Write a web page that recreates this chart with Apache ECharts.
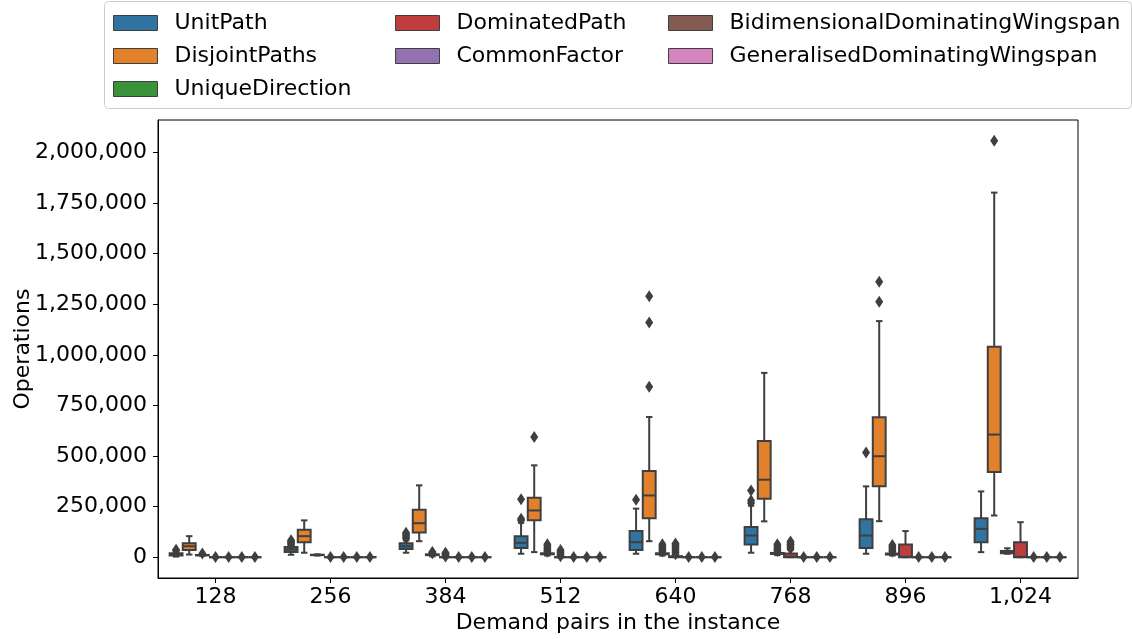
<!DOCTYPE html>
<html><head><meta charset="utf-8">
<script src="https://cdn.jsdelivr.net/npm/echarts@6/dist/echarts.min.js"></script>
<style>html,body{margin:0;padding:0;background:#fff}#c{width:1132px;height:639px}</style>
</head><body><div id="c"></div>
<script>
const categories = ['128','256','384','512','640','768','896','1,024'];
const seriesNames = ['UnitPath','DisjointPaths','UniqueDirection','DominatedPath','CommonFactor','BidimensionalDominatingWingspan','GeneralisedDominatingWingspan'];
const colors = ['#3274a1','#e1812c','#3a923a','#c03d3e','#9372b2','#845b53','#d684bd'];
const yTicks = [0,250000,500000,750000,1000000,1250000,1500000,1750000,2000000];

// per category: [lowWhisker, q1, median, q3, highWhisker]
const unitPathBox = [[3000,8000,14000,20000,28000],[12000,25000,38000,50000,55000],[22000,41000,54000,69000,83000],[17000,45000,71000,104000,170000],[17000,36000,74000,129000,240000],[22000,63000,107000,149000,255000],[17000,46000,107000,187000,350000],[25000,74000,140000,193000,325000]];
const unitPathOut = [[33000,37000],[60000,66000,72000,78000,84000],[92000,100000,108000,115000,121000],[182000,190000,286000],[284000],[268000,280000,330000],[517000],[]];

const disjointBox = [[13000,36000,54000,69000,104000],[22000,74000,104000,136000,182000],[79000,122000,168000,235000,355000],[25000,182000,231000,294000,454000],[79000,193000,305000,426000,693000],[177000,289000,383000,574000,911000],[178000,350000,499000,692000,1167000],[206000,421000,606000,1040000,1802000]];
const disjointOut = [[],[],[],[594000],[842000,1160000,1290000],[],[1262000,1361000],[2058000]];

const uniqueBox = [[7000,9000,10000,11000,13000],[8000,10000,11000,12000,14000],[4000,10000,12000,14000,16000],[8000,14000,17000,19000,22000],[8000,14000,17000,19000,22000],[10000,16000,19000,21000,25000],[8000,13000,16000,18000,22000],[17000,20000,26000,31000,44000]];
const uniqueOut = [[18000],[],[20000,23000,26000],[27000,34000,41000,48000,56000,64000],[28000,35000,42000,50000,57000,64000],[30000,38000,46000,55000,64000],[28000,36000,44000,52000,60000],[]];

const dominatedBox = [[0,0,0,0,0],[0,0,0,0,0],[0,0,0,0,0],[0,0,0,0,0],[0,0,1000,5000,10000],[0,0,2000,18000,36000],[0,0,2000,63000,129000],[0,0,2000,74000,173000]];
const dominatedOut = [[1000],[1000],[3000,8000,13000,18000,22000],[4000,10000,16000,22000,29000,36000],[15000,23000,31000,39000,47000,55000,62000,68000],[42000,49000,56000,63000,70000,77000],[],[]];

const commonBox = [[0,0,0,0,0],[0,0,0,0,0],[0,0,0,0,0],[0,0,0,0,0],[0,0,0,0,0],[0,0,0,0,0],[0,0,0,0,0],[0,0,0,0,0]];
const commonOut = [[1000],[1000],[1000],[1000],[1000],[1000],[1000],[1000]];
const bidimBox = [[0,0,0,0,0],[0,0,0,0,0],[0,0,0,0,0],[0,0,0,0,0],[0,0,0,0,0],[0,0,0,0,0],[0,0,0,0,0],[0,0,0,0,0]];
const bidimOut = [[1000],[1000],[1000],[1000],[1000],[1000],[1000],[1000]];
const generalBox = [[0,0,0,0,0],[0,0,0,0,0],[0,0,0,0,0],[0,0,0,0,0],[0,0,0,0,0],[0,0,0,0,0],[0,0,0,0,0],[0,0,0,0,0]];
const generalOut = [[1000],[1000],[1000],[1000],[1000],[1000],[1000],[1000]];

const boxes = [unitPathBox, disjointBox, uniqueBox, dominatedBox, commonBox, bidimBox, generalBox];
const outliers = [unitPathOut, disjointOut, uniqueOut, dominatedOut, commonOut, bidimOut, generalOut];

const GRAY = '#3f3f3f';
const NH = seriesNames.length;
const GROUP_W = 0.8;
const BOX_W = GROUP_W / NH * 0.98;
function hueOffset(j){ return -GROUP_W/2 + (j + 0.5) * GROUP_W / NH; }

let allVals = [];
boxes.forEach(b => b.forEach(r => allVals.push(...r)));
outliers.forEach(o => o.forEach(r => allVals.push(...r)));
const dMin = Math.min(...allVals), dMax = Math.max(...allVals);
const yMin = dMin - 0.05*(dMax-dMin), yMax = dMax + 0.05*(dMax-dMin);

function makeRender(j){
  return function(params, api){
    const xc = api.value(0) + hueOffset(j);
    const pl = api.coord([xc, api.value(1)]);
    const p1 = api.coord([xc, api.value(2)]);
    const pm = api.coord([xc, api.value(3)]);
    const p3 = api.coord([xc, api.value(4)]);
    const ph = api.coord([xc, api.value(5)]);
    const half = api.size([BOX_W, 0])[0] / 2;
    const cap = half * 0.5;
    const x = pl[0];
    const ls = {stroke: GRAY, lineWidth: 2, fill: null};
    return {type:'group', children:[
      {type:'line', shape:{x1:x,y1:p1[1],x2:x,y2:pl[1]}, style:ls},
      {type:'line', shape:{x1:x,y1:p3[1],x2:x,y2:ph[1]}, style:ls},
      {type:'line', shape:{x1:x-cap,y1:pl[1],x2:x+cap,y2:pl[1]}, style:ls},
      {type:'line', shape:{x1:x-cap,y1:ph[1],x2:x+cap,y2:ph[1]}, style:ls},
      {type:'rect', shape:{x:x-half,y:p3[1],width:2*half,height:p1[1]-p3[1]}, style:{fill:colors[j], stroke:GRAY, lineWidth:2}},
      {type:'line', shape:{x1:x-half,y1:pm[1],x2:x+half,y2:pm[1]}, style:ls}
    ]};
  };
}

const series = [];
seriesNames.forEach((name, j) => {
  series.push({
    name: name, type:'custom', xAxisIndex:1, yAxisIndex:0,
    itemStyle:{color:colors[j]},
    renderItem: makeRender(j),
    encode:{x:0, y:[1,2,3,4,5]},
    data: boxes[j].map((r, c) => [c, ...r]),
    z: 2
  });
});
seriesNames.forEach((name, j) => {
  const pts = [];
  outliers[j].forEach((arr, c) => arr.forEach(v => pts.push([c + hueOffset(j), v])));
  series.push({
    name: name + ' outliers', type:'scatter', xAxisIndex:1, yAxisIndex:0,
    symbol:'diamond', symbolSize:[8,12],
    itemStyle:{color:GRAY, opacity:1},
    data: pts, z: 3
  });
});

const FONT = 'DejaVu Sans';
const legendCols = [[0,1,2],[3,4],[5,6]];
const legendLeft = [113, 395, 668];
const legends = legendCols.map((col, k) => ({
  orient:'vertical', left: legendLeft[k], top: 12, padding:0,
  itemWidth:44, itemHeight:15, itemGap:11,
  selectedMode:false,
  textStyle:{fontFamily:FONT, fontSize:22, color:'#000', lineHeight:22, padding:[0,0,0,12]},
  data: col.map(j => ({name: seriesNames[j], icon:'rect', itemStyle:{color:colors[j], borderColor:GRAY, borderWidth:1}}))
}));

const chart = echarts.init(document.getElementById('c'), null, {renderer:'canvas'});
chart.setOption({
  animation:false,
  backgroundColor:'#fff',
  legend: legends,
  graphic:[{type:'rect', left:104, top:1, shape:{width:1027, height:107, r:4}, style:{fill:'rgba(255,255,255,0.8)', stroke:'#cccccc', lineWidth:1}, z:-1}],
  grid:{left:158, right:54, top:120, bottom:61, show:true, borderColor:'#000', borderWidth:1, outerBoundsMode:'none', containLabel:false},
  xAxis:[
    {type:'category', data:categories, boundaryGap:true,
     axisLine:{show:true, onZero:false, lineStyle:{color:'#000', width:1}},
     axisTick:{show:true, alignWithLabel:true, length:5, lineStyle:{color:'#000'}},
     axisLabel:{fontFamily:FONT, fontSize:22, color:'#000', margin:8},
     name:'Demand pairs in the instance', nameLocation:'middle', nameGap:34, nameMoveOverlap:false,
     nameTextStyle:{fontFamily:FONT, fontSize:22, color:'#000'}},
    {type:'value', min:-0.5, max:7.5, show:false, axisLine:{onZero:false}}
  ],
  yAxis:[{type:'value', min:yMin, max:yMax,
    axisLine:{show:true, onZero:false, lineStyle:{color:'#000', width:1}},
    splitLine:{show:false},
    axisTick:{show:true, length:5, lineStyle:{color:'#000'}, customValues:yTicks},
    axisLabel:{fontFamily:FONT, fontSize:22, color:'#000', margin:11, customValues:yTicks,
      formatter: v => Number(v).toLocaleString('en-US')},
    name:'Operations', nameLocation:'middle', nameGap:124, nameRotate:90, nameMoveOverlap:false,
    nameTextStyle:{fontFamily:FONT, fontSize:22, color:'#000'}}],
  series: series
});
</script></body></html>
